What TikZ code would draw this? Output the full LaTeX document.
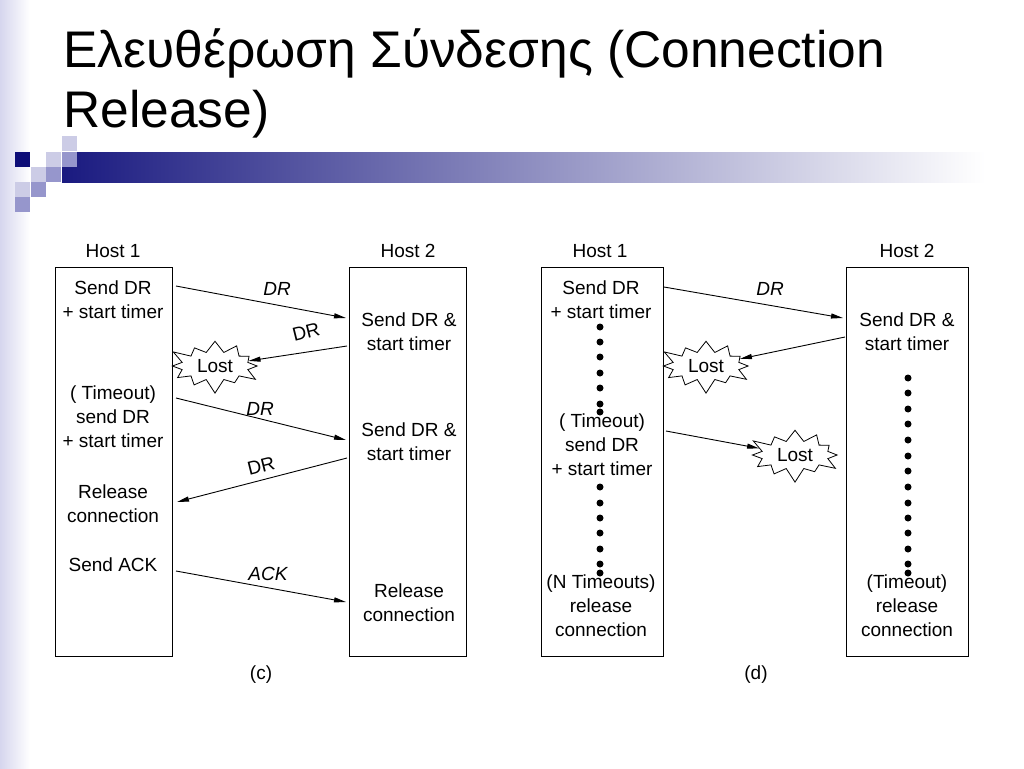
\documentclass[tikz,border=0pt]{standalone}
\usepackage{fontspec}
\setmainfont{Liberation Sans}
\usetikzlibrary{shapes.symbols,arrows.meta,calc}
\definecolor{sqdark}{RGB}{14,14,120}
\definecolor{sqmid}{RGB}{150,150,204}
\definecolor{sqlight}{RGB}{204,204,230}
\definecolor{barnavy}{RGB}{26,26,128}
\definecolor{striplav}{RGB}{214,214,238}
\begin{document}
\begin{tikzpicture}[x=1pt,y=-1pt,
  lbl/.style={font=\fontsize{19}{24}\selectfont, align=center, inner sep=0pt},
  msg/.style={font=\fontsize{19}{24}\selectfont\itshape, inner sep=0pt},
  hostbox/.style={draw, line width=1pt, minimum width=117pt, minimum height=389pt, inner sep=0pt},
  hostboxd/.style={draw, line width=1pt, minimum width=122pt, minimum height=389pt, inner sep=0pt},
  arr/.style={line width=0.9pt, -{Triangle[length=12pt,width=5pt]}},
  lost/.style={starburst, draw, fill=white, line width=0.8pt, starburst points=12, starburst point height=15pt, inner sep=0pt, minimum width=98pt, minimum height=58pt, font=\fontsize{19}{24}\selectfont},
  dot/.style={circle, fill=black, inner sep=0pt, minimum size=7pt}]
\useasboundingbox (0,0) rectangle (1024,768);
\fill[white] (0,0) rectangle (1024,768);
% left strip
\shade[left color=striplav, right color=white] (0,0) rectangle (30,768);
% bar
\shade[left color=barnavy, right color=white] (62,152) rectangle (985,182);
% squares
\fill[sqdark] (15,152) rectangle (30,167);
\fill[sqlight] (46,152) rectangle (61,167);
\fill[sqlight] (62,136) rectangle (77,151);
\fill[sqmid] (62,152) rectangle (77,167);
\fill[sqlight] (31,167) rectangle (46,182);
\fill[sqmid] (46,167) rectangle (61,182);
\fill[sqlight] (15,182) rectangle (30,197);
\fill[sqmid] (31,182) rectangle (46,197);
\fill[sqmid] (15,197) rectangle (30,212);
% title
\node[anchor=base west, inner sep=0pt, font=\fontsize{51.5}{51.5}\selectfont] (title1) at (63,67) {Ελευθέρωση Σύνδεσης (Connection};
\node[anchor=base west, inner sep=0pt, font=\fontsize{51.5}{51.5}\selectfont] (title2) at (63,127) {Release)};

% ===== (c) =====
\node[lbl] (ch1) at (113,251) {Host 1};
\node[lbl] (ch2) at (408,251) {Host 2};
\node[hostbox] (cb1) at (113.5,461.5) {};
\node[hostbox] (cb2) at (408,461.5) {};
\node[lbl] (ct1) at (113,300) {Send DR\\+ start timer};
\node[lbl] (ct2) at (113,417) {( Timeout)\\send DR\\+ start timer};
\node[lbl] (ct3) at (113,504) {Release\\connection};
\node[lbl] (ct4) at (113,565) {Send ACK};
\node[lbl] (cs1) at (409,332) {Send DR \&\\start timer};
\node[lbl] (cs2) at (409,442) {Send DR \&\\start timer};
\node[lbl] (cs3) at (409,603) {Release\\connection};
\node[lost] (clost) at (215,366) {Lost};

\coordinate (ca1s) at (176,286); \coordinate (ca1e) at (346,318);
\coordinate (ca2s) at (347,346);
\coordinate (ca3s) at (176,398); \coordinate (ca3e) at (346,440);
\coordinate (ca4s) at (347,458); \coordinate (ca4e) at (177,502);
\coordinate (ca5s) at (176,571); \coordinate (ca5e) at (346,602);
\draw[arr] (ca1s) -- (ca1e);
\draw[arr] (ca2s) -- (clost);
\draw[arr] (ca3s) -- (ca3e);
\draw[arr] (ca4s) -- (ca4e);
\draw[arr] (ca5s) -- (ca5e);
\node[msg] (cm1) at (277,289) {DR};
\node[lbl, rotate=14] (cm2) at (306,332) {DR};
\node[msg] (cm3) at (260,409) {DR};
\node[lbl, rotate=14] (cm4) at (261,466) {DR};
\node[msg] (cm5) at (268,574) {ACK};
\node[lbl] (cc) at (261,675) {(c)};

% ===== (d) =====
\node[lbl] (dh1) at (600,251) {Host 1};
\node[lbl] (dh2) at (907,251) {Host 2};
\node[hostboxd] (db1) at (602,461.5) {};
\node[hostboxd] (db2) at (907,461.5) {};
\node[lbl] (dt1) at (601,300) {Send DR\\+ start timer};
\foreach \yy [count=\i] in {327,342,357,373,388,404,412} \node[dot] (dda\i) at (600,\yy) {};
\foreach \yy [count=\i] in {487,503,518,533,549,564,573} \node[dot] (ddb\i) at (600,\yy) {};
\foreach \yy [count=\i] in {378,393,409,424,440,456,471,487,503,518,533,549,564,573} \node[dot] (ddc\i) at (908,\yy) {};
\node[lbl] (dt2) at (602,445) {( Timeout)\\send DR\\+ start timer};
\node[lbl] (dt3) at (601,606) {(N Timeouts)\\release\\connection};
\node[lbl] (ds1) at (907,332) {Send DR \&\\start timer};
\node[lbl] (ds2) at (907,606) {(Timeout)\\release\\connection};
\node[lost] (dlost1) at (706,366) {Lost};
\node[lost] (dlost2) at (795,455) {Lost};
\coordinate (da1s) at (664,287); \coordinate (da1e) at (843,318);
\coordinate (da2s) at (845,337);
\coordinate (da3s) at (666,431);
\draw[arr] (da1s) -- (da1e);
\draw[arr] (da2s) -- (dlost1);
\draw[arr] (da3s) -- (dlost2);
\node[msg] (dm1) at (770,289) {DR};
\node[lbl] (dd) at (756,675) {(d)};
\end{tikzpicture}
\end{document}
